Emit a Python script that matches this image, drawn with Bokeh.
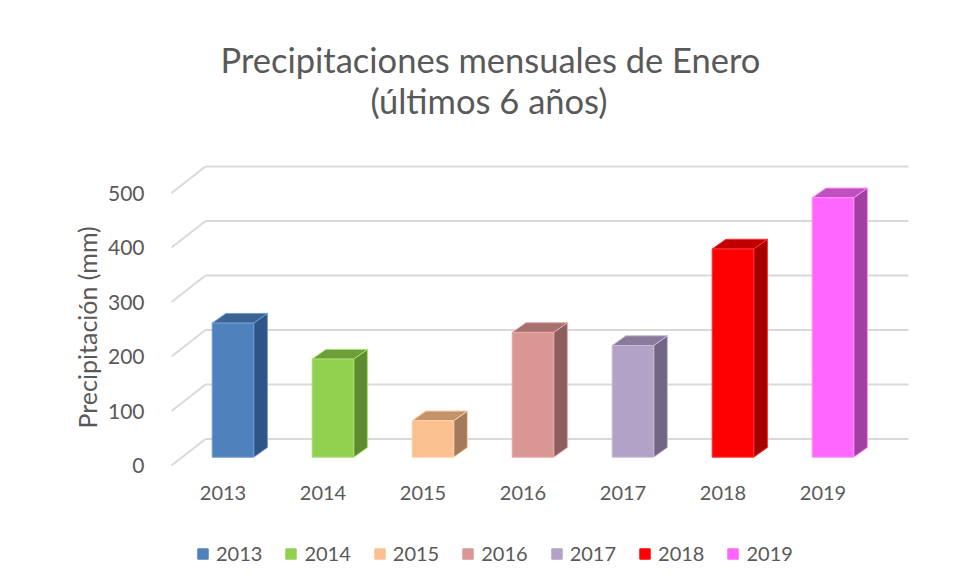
from bokeh.plotting import figure
from bokeh.layouts import column
from bokeh.models import Range1d, FixedTicker, Title, Legend, LegendItem, ColumnDataSource
from bokeh.embed import file_html
from bokeh.resources import INLINE

# ---- data ----
years = ["2013", "2014", "2015", "2016", "2017", "2018", "2019"]
precip = [246, 180, 67, 229, 205, 382, 476]
y_ticks = [0, 100, 200, 300, 400, 500]
front_colors = ["#4F81BD", "#92D050", "#FAC090", "#D99694", "#B3A2C7", "#FF0000", "#FF66FF"]
side_colors = ["#2F5487", "#5E8A30", "#A17B5B", "#8C5F5E", "#726782", "#A50000", "#A040A0"]
top_colors = ["#3B6394", "#6E9E3A", "#C4936A", "#A6706F", "#897A9A", "#C00000", "#C050C0"]
edge_colors = ["#6F9BD1", "#A8E070", "#FFD0A8", "#E8AAA8", "#C8B8DA", "#FF3030", "#FF90FF"]

# ---- geometry (screen scale) ----
W, H, H_LEG = 954, 520, 64
PX_X = 100.0      # px per category
PX_Y = 0.545      # px per mm
frame_l, frame_r, frame_t, frame_b = 160, 915, 120, 475
cat0_x = 222.5    # x of category 0 label
zero_y = 465.0    # y of value 0 on the front plane

x_start = (frame_l - cat0_x) / PX_X
x_end = (frame_r - cat0_x) / PX_X
y_start = (zero_y - frame_b) / PX_Y
y_end = (zero_y - frame_t) / PX_Y

wall_dx = 34 / PX_X
wall_dy = 26.5 / PX_Y
front_left = (171 - cat0_x) / PX_X
wall_left = front_left + wall_dx
wall_right = (908 - cat0_x) / PX_X

bar_l_off, bar_r_off = -0.108, 0.307
bar_base = 8.3 / PX_Y
bar_dx = 13.7 / PX_X
bar_dy = 9.7 / PX_Y

FONT = "Lato"
TXT = "#595959"

p = figure(width=W, height=H, output_backend="svg", toolbar_location=None,
           x_range=Range1d(x_start, x_end), y_range=Range1d(y_start, y_end),
           min_border_left=frame_l, min_border_right=W - frame_r,
           min_border_top=frame_t, min_border_bottom=H - frame_b,
           title=None, background_fill_color="white", border_fill_color="white")
p.outline_line_color = None
p.grid.visible = False

# back wall gridlines + depth diagonals
p.segment(x0=[wall_left] * len(y_ticks), y0=[v + wall_dy for v in y_ticks],
          x1=[wall_right] * len(y_ticks), y1=[v + wall_dy for v in y_ticks],
          line_color="#D9D9D9", line_width=2)
p.segment(x0=[front_left] * len(y_ticks), y0=y_ticks,
          x1=[wall_left] * len(y_ticks), y1=[v + wall_dy for v in y_ticks],
          line_color="#D9D9D9", line_width=2)

# bars
idx = list(range(len(years)))
lefts = [i + bar_l_off for i in idx]
rights = [i + bar_r_off for i in idx]
tops = [bar_base + v for v in precip]

side_xs = [[r, r + bar_dx, r + bar_dx, r] for r in rights]
side_ys = [[bar_base, bar_base + bar_dy, t + bar_dy, t] for t in tops]
top_xs = [[l, l + bar_dx, r + bar_dx, r] for l, r in zip(lefts, rights)]
top_ys = [[t, t + bar_dy, t + bar_dy, t] for t in tops]

p.patches(xs=side_xs, ys=side_ys, fill_color=side_colors, line_color=edge_colors, line_width=1)
p.patches(xs=top_xs, ys=top_ys, fill_color=top_colors, line_color=edge_colors, line_width=1)
src = ColumnDataSource(dict(left=lefts, right=rights, bottom=[bar_base] * len(years), top=tops,
                            fill=front_colors, edge=edge_colors, year=years))
p.quad(left="left", right="right", bottom="bottom", top="top", source=src,
       fill_color="fill", line_color="edge", line_width=1)

# axes
xa = p.xaxis[0]
xa.ticker = FixedTicker(ticks=idx)
xa.major_label_overrides = {i: y for i, y in zip(idx, years)}
xa.axis_line_color = None
xa.major_tick_line_color = None
xa.minor_tick_line_color = None
xa.major_label_text_font = FONT
xa.major_label_text_font_size = "20px"
xa.major_label_text_color = TXT
xa.major_label_standoff = 4

ya = p.yaxis[0]
ya.ticker = FixedTicker(ticks=y_ticks)
ya.axis_line_color = None
ya.major_tick_line_color = None
ya.minor_tick_line_color = None
ya.major_label_text_font = FONT
ya.major_label_text_font_size = "21px"
ya.major_label_text_color = TXT
ya.major_label_standoff = 10

# y-axis title as a left-side title (lets it sit lower than the frame centre)
ylab = Title(text="Precipitación (mm)", align="left", offset=47, standoff=6, text_font=FONT,
             text_font_size="25px", text_font_style="normal", text_color=TXT)
p.add_layout(ylab, "left")

# titles
t2 = Title(text="(últimos 6 años)", align="left", offset=210, standoff=-1, text_font=FONT,
           text_font_size="34.5px", text_font_style="normal", text_color=TXT)
t1 = Title(text="Precipitaciones mensuales de Enero", align="left", offset=60, standoff=-2,
           text_font=FONT, text_font_size="34.5px", text_font_style="normal", text_color=TXT)
p.add_layout(t2, "above")
p.add_layout(t1, "above")

# legend strip below the chart (its frame is aligned with the chart's frame)
q = figure(width=W, height=H_LEG, output_backend="svg", toolbar_location=None,
           x_range=Range1d(100, 101), y_range=Range1d(10000, 10001),
           x_axis_location=None, y_axis_location=None, min_border=0,
           background_fill_color="white", border_fill_color="white")
q.outline_line_color = None
q.grid.visible = False
leg_r = q.quad(left="left", right="right", bottom="bottom", top="top", source=src,
               fill_color="fill", line_color="fill")
items = [LegendItem(label=y, renderers=[leg_r], index=i) for i, y in enumerate(years)]
leg = Legend(items=items, orientation="horizontal", location=(36, 19),
             label_text_font=FONT, label_text_font_size="20px", label_text_color=TXT,
             glyph_width=13, glyph_height=13, label_standoff=7, spacing=22,
             border_line_color=None, background_fill_alpha=0, padding=5, margin=0)
q.add_layout(leg, "center")

open("out.html", "w").write(file_html(column(p, q, spacing=0), INLINE))
